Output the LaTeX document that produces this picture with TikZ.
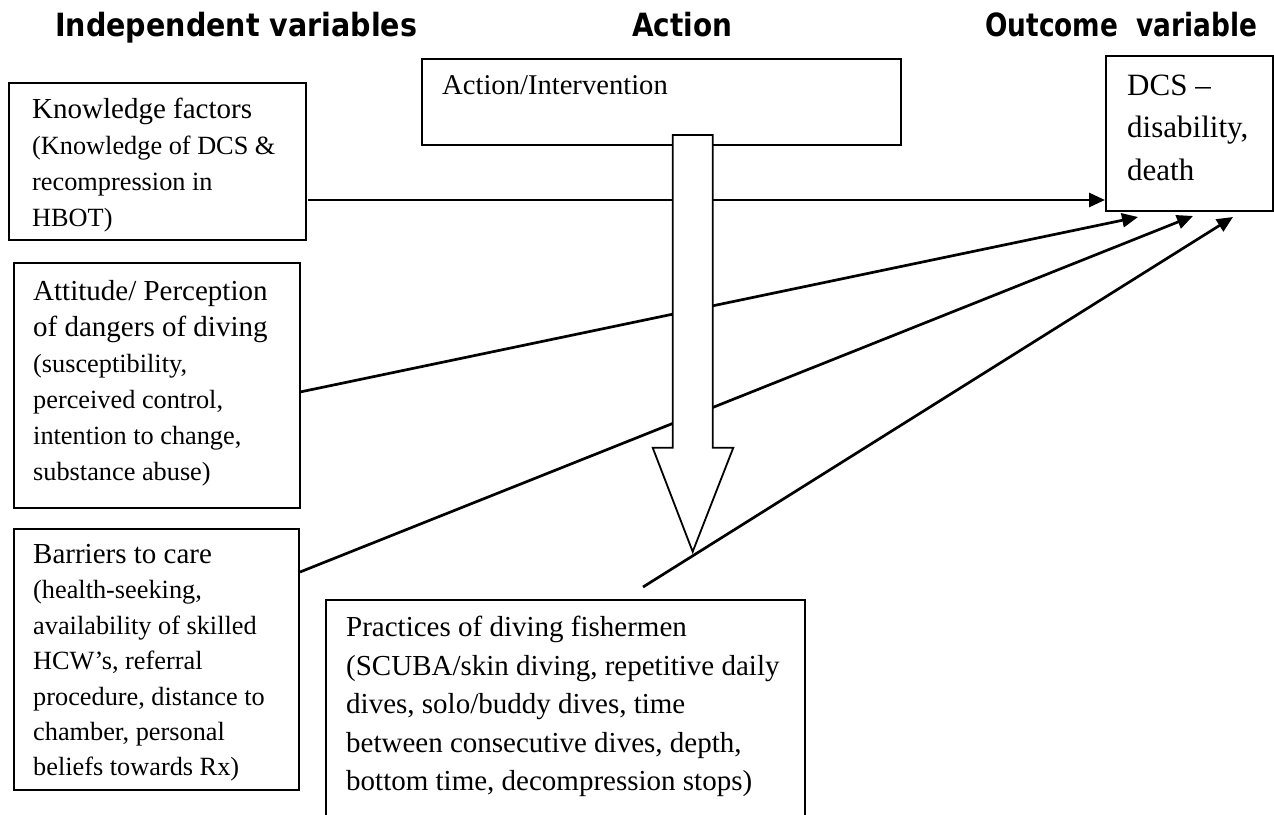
\documentclass[tikz,border=0pt]{standalone}
\usepackage{fontspec}
\usepackage{graphicx}
\setmainfont{Liberation Serif}
\newfontfamily\hdrfont{DejaVu Sans}
\usetikzlibrary{arrows.meta}
\newcommand{\fA}{\fontsize{29}{36}\selectfont}
\newcommand{\fB}{\fontsize{26.3}{36}\selectfont}
\newcommand{\fC}{\fontsize{31}{36}\selectfont}
\newcommand{\fD}{\fontsize{28.6}{36}\selectfont}
\begin{document}
\begin{tikzpicture}[x=1pt,y=-1pt,
  box/.style={draw, line width=1.8pt, rectangle, inner sep=0pt, anchor=north west},
  hdr/.style={font=\hdrfont\bfseries\fontsize{32}{36}\selectfont, inner sep=0pt, anchor=base west},
  tl/.style={inner sep=0pt, anchor=base west},
  conn/.style={line width=2.7pt, -{Triangle[length=16pt,width=14pt]}},
  blockarrow/.style={draw, line width=1.8pt, fill=white, line join=miter}]
\useasboundingbox (0,0) rectangle (1274,814);
\clip (0,0) rectangle (1274,814);

% headers
\node[hdr] (h1) at (55,36) {\resizebox{362pt}{\height}{Independent variables}};
\node[hdr] (h2) at (632,36) {\resizebox{100pt}{\height}{Action}};
\node[hdr] (h3) at (985,36) {\resizebox{272pt}{\height}{Outcome\ \ variable}};

% boxes
\node[box, minimum width=297pt, minimum height=157pt] (know) at (8,82) {};
\node[box, minimum width=286pt, minimum height=245pt] (att) at (13,262) {};
\node[box, minimum width=285pt, minimum height=261pt] (bar) at (13,528) {};
\node[box, minimum width=479pt, minimum height=86pt] (act) at (421,58) {};
\node[box, minimum width=167pt, minimum height=155pt] (dcs) at (1105,55) {};
\node[box, minimum width=479pt, minimum height=240pt] (prac) at (325,599) {};

% knowledge text
\node[tl, font=\fA] (k1) at (32,118) {Knowledge factors};
\node[tl, font=\fB] (k2) at (32,154) {(Knowledge of DCS \&};
\node[tl, font=\fB] (k3) at (32,190) {recompression in};
\node[tl, font=\fB] (k4) at (32,226) {HBOT)};

% attitude text
\node[tl, font=\fA] (a1) at (33,300) {Attitude/ Perception};
\node[tl, font=\fA] (a2) at (33,336) {of dangers of diving};
\node[tl, font=\fB] (a3) at (33,372) {(susceptibility,};
\node[tl, font=\fB] (a4) at (33,408) {perceived control,};
\node[tl, font=\fB] (a5) at (33,444) {intention to change,};
\node[tl, font=\fB] (a6) at (33,480) {substance abuse)};

% barriers text
\node[tl, font=\fA] (b1) at (33,563) {Barriers to care};
\node[tl, font=\fB] (b2) at (33,598) {(health-seeking,};
\node[tl, font=\fB] (b3) at (33,634) {availability of skilled};
\node[tl, font=\fB] (b4) at (33,669) {HCW’s, referral};
\node[tl, font=\fB] (b5) at (33,705) {procedure, distance to};
\node[tl, font=\fB] (b6) at (33,740) {chamber, personal};
\node[tl, font=\fB] (b7) at (33,775) {beliefs towards Rx)};

% practices text
\node[tl, font=\fA] (p1) at (346,636) {Practices of diving fishermen};
\node[tl, font=\fA] (p2) at (346,675) {(SCUBA/skin diving, repetitive daily};
\node[tl, font=\fA] (p3) at (346,713) {dives, solo/buddy dives, time};
\node[tl, font=\fA] (p4) at (346,752) {between consecutive dives, depth,};
\node[tl, font=\fA] (p5) at (346,790) {bottom time, decompression stops)};

% action text
\node[tl, font=\fD] (ac1) at (442,94) {Action/Intervention};

% DCS text
\node[tl, font=\fC] (d1) at (1127,95) {DCS –};
\node[tl, font=\fC] (d2) at (1127,137) {disability,};
\node[tl, font=\fC] (d3) at (1127,180) {death};

% connectors
\coordinate (k0) at (308,200);
\coordinate (a0) at (300,392);
\coordinate (t1) at (1138,217);
\coordinate (b0) at (300,572);
\coordinate (t2) at (1193,216);
\coordinate (p0) at (643,587);
\coordinate (t3) at (1233,217);
\draw[conn] (k0) -- (dcs.west |- k0);
\draw[conn] (a0) -- (t1);
\draw[conn] (b0) -- (t2);

% block arrow
\draw[blockarrow] (672.7,135) -- (712.7,135) -- (712.7,447.7) -- (733.3,447.7)
  -- (692.7,551.7) -- (652.7,447.7) -- (672.7,447.7) -- cycle;

\draw[conn] (p0) -- (t3);
\end{tikzpicture}
\end{document}
